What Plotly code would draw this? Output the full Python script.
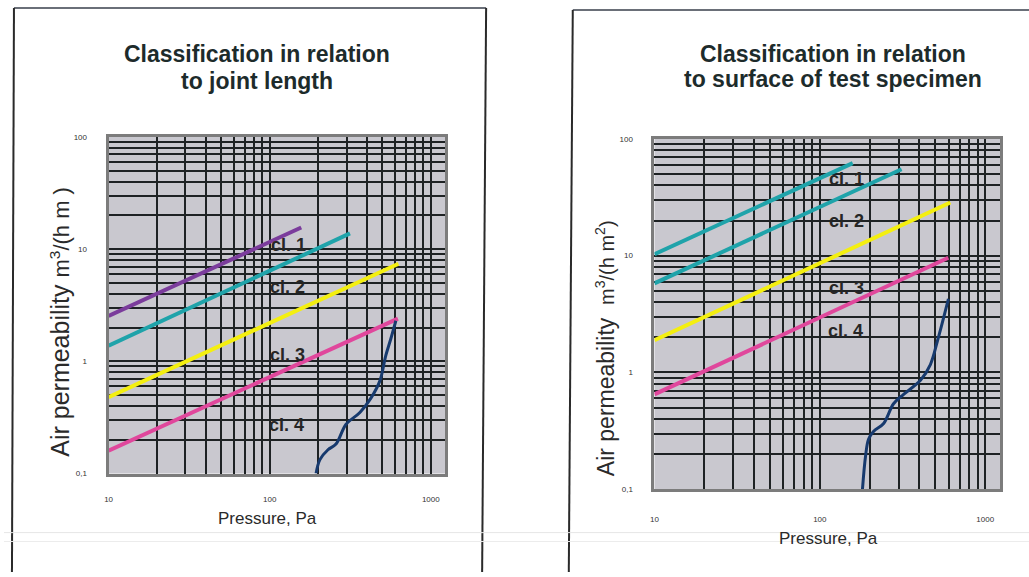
import plotly.graph_objects as go

W, H = 1029, 577

# ---- data ----
# Left: classification in relation to joint length
left_cl1_p = [10, 157];  left_cl1_v = [2.54, 15.6]
left_cl2_p = [10, 315];  left_cl2_v = [1.38, 13.8]
left_cl3_p = [10, 630];  left_cl3_v = [0.48, 7.4]
left_cl4_p = [10, 625];  left_cl4_v = [0.16, 2.4]
left_meas_p = [194, 205, 230, 258, 298, 363, 425, 483, 526, 565, 607]
left_meas_v = [0.1, 0.133, 0.163, 0.183, 0.275, 0.35, 0.47, 0.67, 1.13, 1.59, 2.3]

# Right: classification in relation to surface of test specimen
right_cl1_p = [10, 158];  right_cl1_v = [10.3, 62]
right_cl2_p = [10, 312];  right_cl2_v = [5.8, 55]
right_cl3_p = [10, 615];  right_cl3_v = [1.89, 28.5]
right_cl4_p = [10, 598];  right_cl4_v = [0.65, 9.6]
right_meas_p = [181, 189, 197, 211, 243, 279, 321, 406, 466, 514, 599]
right_meas_v = [0.1, 0.193, 0.268, 0.313, 0.366, 0.54, 0.65, 0.857, 1.17, 1.86, 4.27]

x_tickvals = [10, 20, 30, 40, 50, 60, 70, 80, 90, 100, 200, 300, 400, 500, 600, 700, 800, 900, 1000]
x_ticktext = ["10"] + [""] * 8 + ["100"] + [""] * 8 + ["1000"]
y_tickvals = [0.1, 0.2, 0.3, 0.4, 0.5, 0.6, 0.7, 0.8, 0.9, 1, 2, 3, 4, 5, 6, 7, 8, 9, 10,
              20, 30, 40, 50, 60, 70, 80, 90, 100]
y_ticktext = ["0,1"] + [""] * 8 + ["1"] + [""] * 8 + ["10"] + [""] * 8 + ["100"]

class_labels = ["cl. 1", "cl. 2", "cl. 3", "cl. 4"]
title_left = ["Classification in relation", "to joint length"]
title_right = ["Classification in relation", "to surface of test specimen"]
x_title = "Pressure, Pa"

PURPLE = "#7b3c9c"
TEAL = "#1fa3aa"
YELLOW = "#f4ef10"
MAGENTA = "#e0479c"
NAVY = "#173a6e"


def px(x):
    return x / W


def py(y):
    return 1 - y / H


fig = go.Figure()


def add_line(xs, ys, color, width, xa, ya, shape="linear"):
    fig.add_trace(go.Scatter(x=xs, y=ys, mode="lines", xaxis=xa, yaxis=ya,
                             line=dict(color=color, width=width, shape=shape),
                             showlegend=False, hoverinfo="skip"))


add_line(left_cl1_p, left_cl1_v, PURPLE, 4, "x", "y")
add_line(left_cl2_p, left_cl2_v, TEAL, 4, "x", "y")
add_line(left_cl3_p, left_cl3_v, YELLOW, 4, "x", "y")
add_line(left_cl4_p, left_cl4_v, MAGENTA, 4, "x", "y")
add_line(left_meas_p, left_meas_v, NAVY, 3, "x", "y", "spline")

add_line(right_cl1_p, right_cl1_v, TEAL, 4, "x2", "y2")
add_line(right_cl2_p, right_cl2_v, TEAL, 4, "x2", "y2")
add_line(right_cl3_p, right_cl3_v, YELLOW, 4, "x2", "y2")
add_line(right_cl4_p, right_cl4_v, MAGENTA, 4, "x2", "y2")
add_line(right_meas_p, right_meas_v, NAVY, 3, "x2", "y2", "spline")

FONT = "Arial, Liberation Sans, sans-serif"
NARROW = "Liberation Sans Narrow, Arial Narrow, Liberation Sans, sans-serif"

common_x = dict(type="log", range=[1, 3.09], tickvals=x_tickvals, ticktext=x_ticktext,
                showgrid=True, gridcolor="#1e2224", gridwidth=2, zeroline=False,
                showline=True, mirror=True, linecolor="#7c7c7c", linewidth=3,
                ticks="outside", tickcolor="rgba(0,0,0,0)",
                tickfont=dict(family=NARROW, size=8, color="#333333"), fixedrange=True)
common_y = dict(type="log", range=[-1, 2], tickvals=y_tickvals, ticktext=y_ticktext,
                showgrid=True, gridcolor="#1e2224", gridwidth=2, zeroline=False,
                showline=True, mirror=True, linecolor="#7c7c7c", linewidth=3,
                ticks="outside", tickcolor="rgba(0,0,0,0)", ticklen=17,
                tickfont=dict(family=NARROW, size=8, color="#333333"), fixedrange=True)

fig.update_layout(
    width=W, height=H, margin=dict(l=0, r=0, t=0, b=0),
    paper_bgcolor="white", plot_bgcolor="#c9c8cf",
    xaxis=dict(common_x, domain=[px(105), px(443)], anchor="y", ticklen=16),
    yaxis=dict(common_y, domain=[py(477), py(135)], anchor="x"),
    xaxis2=dict(common_x, domain=[px(653), px(1000)], anchor="y2", ticklen=20),
    yaxis2=dict(common_y, domain=[py(493), py(137)], anchor="x2"),
    font=dict(family=FONT),
)

anns = []


def ann(x, y, text, size, color, bold=False, angle=0):
    anns.append(dict(x=px(x), y=py(y), xref="paper", yref="paper", showarrow=False,
                     xanchor="center", yanchor="middle", textangle=angle,
                     text=("<b>" + text + "</b>") if bold else text,
                     font=dict(family=FONT, size=size, color=color)))


# titles (one annotation per line)
ann(254, 51, title_left[0], 23, "#1d2b2b", bold=True)
ann(254, 78, title_left[1], 23, "#1d2b2b", bold=True)
ann(832, 51, title_right[0], 23, "#1d2b2b", bold=True)
ann(832, 76, title_right[1], 23, "#1d2b2b", bold=True)

# axis titles
ann(265, 523, x_title, 17, "#2a2a2a")
ann(828, 543, x_title, 17, "#2a2a2a")
ann(56, 323, "Air permeability <span style='font-size:22px'>m<sup>3</sup>/(h m )</span>",
    25, "#2a2a2a", angle=-90)
ann(603, 350, "Air permeability  <span style='font-size:20px'>m<sup>3</sup>/(h m<sup>2</sup>)</span>",
    23, "#2a2a2a", angle=-90)

# class labels
left_lab_pos = [(286, 245), (285, 287), (285, 357), (284, 428)]
right_lab_pos = [(846, 178), (846, 220), (846, 289), (845, 332)]
for lab, (x, y) in zip(class_labels, left_lab_pos):
    ann(x, y, lab, 18, "#262626", bold=True)
for lab, (x, y) in zip(class_labels, right_lab_pos):
    ann(x, y, lab, 18, "#262626", bold=True)

fig.update_layout(annotations=anns)

# page frames of the scanned slides
shapes = [
    dict(type="line", x0=px(10), y0=py(4), x1=px(484), y1=py(4), line=dict(color="#6a6f78", width=2)),
    dict(type="line", x0=px(10), y0=py(4), x1=px(8), y1=py(577), line=dict(color="#2a2a2a", width=2)),
    dict(type="line", x0=px(484), y0=py(4), x1=px(480), y1=py(577), line=dict(color="#2a2a2a", width=2)),
    dict(type="line", x0=px(571), y0=py(6), x1=px(1029), y1=py(6), line=dict(color="#6a6f78", width=2)),
    dict(type="line", x0=px(571), y0=py(6), x1=px(567), y1=py(577), line=dict(color="#2a2a2a", width=2)),
    dict(type="line", x0=0, y0=py(537), x1=1, y1=py(537), line=dict(color="#e6e6e6", width=1)),
    dict(type="line", x0=0, y0=py(546), x1=1, y1=py(546), line=dict(color="#ececec", width=1)),
]
for s in shapes:
    s.update(xref="paper", yref="paper", layer="below")
fig.update_layout(shapes=shapes)

fig.write_html("out.html", config={"displayModeBar": False},
               post_script="document.body.style.margin='0px';document.body.style.overflow='hidden';")
